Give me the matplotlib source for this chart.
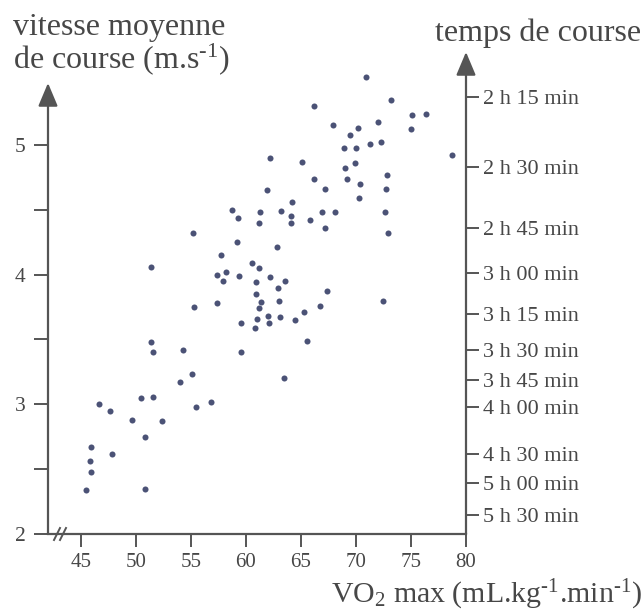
import matplotlib
matplotlib.use('Agg')
import matplotlib.pyplot as plt

# VO2 max (mL/kg/min) and mean race speed (m/s)
vo2 = [70.9, 73.2, 66.2, 75.1, 76.4, 72.0, 75.0, 67.9, 70.2, 69.5,
       68.9, 70.0, 71.3, 72.3, 78.7, 62.2, 65.1, 69.0, 69.9, 69.2,
       72.8, 66.2, 67.2, 70.4, 72.7, 61.9, 70.3, 64.2, 58.7, 59.3,
       61.3, 63.2, 64.1, 64.1, 61.2, 65.8, 66.9, 68.1, 67.2, 72.6,
       72.9, 55.2, 59.2, 62.8, 57.7, 60.6, 61.2, 51.4, 57.4, 58.2,
       57.9, 59.4, 60.9, 62.2, 63.6, 62.9, 67.4, 60.9, 61.4, 63.0,
       66.7, 55.3, 57.4, 61.2, 72.5, 65.3, 64.5, 62.0, 61.0, 59.6,
       62.1, 63.1, 60.8, 65.6, 51.4, 51.6, 54.3, 59.6, 63.5, 55.1,
       54.0, 50.5, 51.6, 46.7, 47.7, 55.5, 56.8, 49.7, 52.4, 50.8,
       45.9, 47.8, 45.8, 45.9, 45.5, 50.8]
speed = [5.52, 5.35, 5.30, 5.23, 5.24, 5.18, 5.12, 5.15, 5.13, 5.08,
         4.98, 4.98, 5.01, 5.02, 4.92, 4.90, 4.87, 4.82, 4.86, 4.74,
         4.77, 4.74, 4.66, 4.70, 4.66, 4.65, 4.59, 4.56, 4.50, 4.44,
         4.48, 4.49, 4.45, 4.40, 4.40, 4.42, 4.48, 4.48, 4.36, 4.48,
         4.32, 4.32, 4.25, 4.21, 4.15, 4.09, 4.05, 4.06, 4.00, 4.02,
         3.95, 3.99, 3.94, 3.98, 3.95, 3.90, 3.87, 3.85, 3.79, 3.80,
         3.76, 3.75, 3.78, 3.74, 3.80, 3.71, 3.65, 3.68, 3.66, 3.63,
         3.63, 3.67, 3.59, 3.49, 3.48, 3.40, 3.42, 3.40, 3.20, 3.23,
         3.17, 3.05, 3.06, 3.00, 2.95, 2.98, 3.02, 2.88, 2.87, 2.75,
         2.67, 2.62, 2.56, 2.48, 2.34, 2.35]

x_ticks = [45, 50, 55, 60, 65, 70, 75, 80]
y_ticks = [2, 2.5, 3, 3.5, 4, 4.5, 5]
y_labels = ['2', '', '3', '', '4', '', '5']

# race time scale on the right, placed at the matching speed
time_speed = [5.37, 4.83, 4.36, 4.01, 3.70, 3.42, 3.19, 2.98, 2.62, 2.39, 2.15]
time_labels = ['2 h 15 min', '2 h 30 min', '2 h 45 min', '3 h 00 min',
               '3 h 15 min', '3 h 30 min', '3 h 45 min', '4 h 00 min',
               '4 h 30 min', '5 h 00 min', '5 h 30 min']

TXT = '#474747'
AXC = '#555555'
DOT = '#4b5276'
HY = '\u2010'  # short hyphen for the exponents, as in the scan

plt.rcParams['font.family'] = 'Liberation Serif'
plt.rcParams['mathtext.fontset'] = 'custom'
plt.rcParams['mathtext.rm'] = 'Liberation Serif'
plt.rcParams['mathtext.it'] = 'Liberation Serif:italic'
plt.rcParams['mathtext.default'] = 'regular'

W, H = 643, 615
fig = plt.figure(figsize=(W / 100, H / 100), dpi=100)
ax = fig.add_axes([48 / W, 1 - 534 / H, 418 / W, 484 / H])

ax.scatter(vo2, speed, s=19, color=DOT, linewidths=0, zorder=3, clip_on=False)
ax.set_xlim(42.03, 80)
ax.set_ylim(2, 5.732)

for side in ['top', 'left', 'right']:
    ax.spines[side].set_visible(False)
ax.spines['bottom'].set_linewidth(1.6)
ax.spines['bottom'].set_color(AXC)

ax.set_xticks(x_ticks)
ax.tick_params(axis='x', direction='out', length=9, width=1.4, color=AXC,
               labelcolor=TXT, labelsize=15, pad=5)
ax.set_yticks(y_ticks, y_labels)
ax.tick_params(axis='y', direction='out', length=10, width=1.4, color=AXC,
               labelcolor=TXT, labelsize=15.5, pad=6)

ax2 = ax.twinx()
ax2.set_ylim(ax.get_ylim())
for side in ['top', 'left', 'right', 'bottom']:
    ax2.spines[side].set_visible(False)
ax2.set_yticks(time_speed, time_labels)
ax2.tick_params(axis='y', direction='out', length=9, width=1.4, color=AXC,
                labelcolor=TXT, labelsize=16, pad=3)

# vertical axes drawn as arrows
arrow = dict(arrowstyle='-|>,head_length=0.95,head_width=0.4', color=AXC,
             lw=1.6, shrinkA=0, shrinkB=0, mutation_scale=15)
ax.annotate('', xy=(0, (534 - 83) / 484), xytext=(0, 0),
            xycoords='axes fraction', arrowprops=arrow)
ax.annotate('', xy=(1, (534 - 52) / 484), xytext=(1, 0),
            xycoords='axes fraction', arrowprops=arrow)

# axis break mark on the x axis
for xb in [57, 63]:
    x0 = (xb - 48 - 3) / 418
    x1 = (xb - 48 + 3) / 418
    ax.plot([x0, x1], [-6 / 484, 6 / 484], color=AXC, lw=1.4,
            transform=ax.transAxes, clip_on=False)

fig.text(13 / W, 1 - 35 / H, 'vitesse moyenne', fontsize=23, color=TXT,
         ha='left', va='baseline')
fig.text(13 / W, 1 - 68 / H, 'de course (m.s$^{' + HY + '1}$)', fontsize=23,
         color=TXT, ha='left', va='baseline')
fig.text(641 / W, 1 - 41 / H, 'temps de course', fontsize=23, color=TXT,
         ha='right', va='baseline')
fig.text(642 / W, 1 - 603 / H,
         'VO$_2$ max (mL.kg$^{' + HY + '1}$.min$^{' + HY + '1}$)',
         fontsize=21.5, color=TXT, ha='right', va='baseline')

fig.savefig('out.png', dpi=100)
